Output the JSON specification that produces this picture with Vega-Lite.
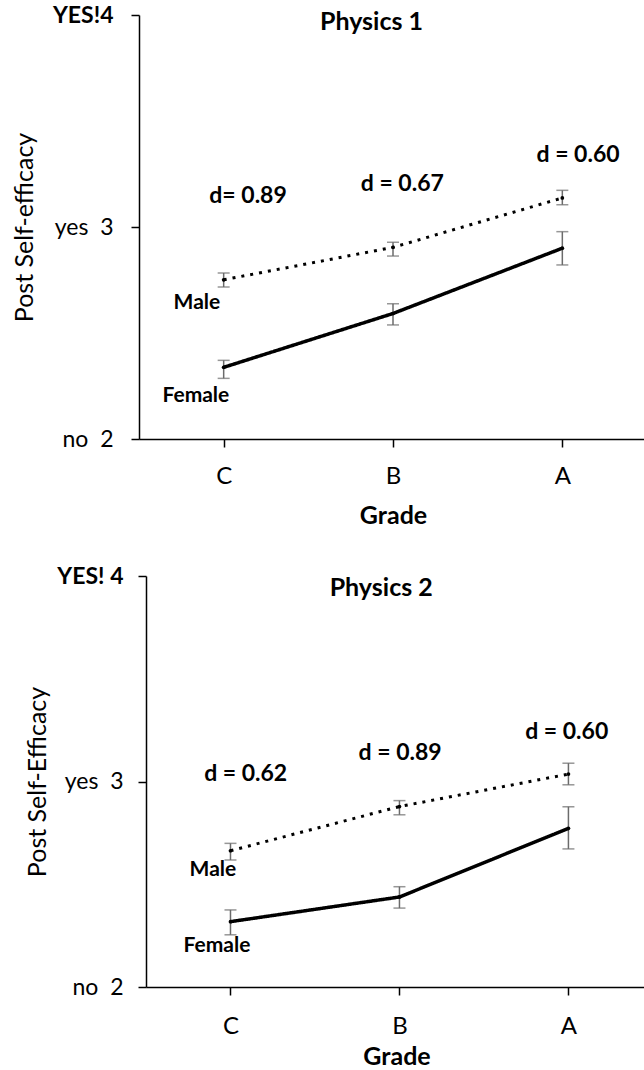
{
  "$schema": "https://vega.github.io/schema/vega-lite/v6.json",
  "padding": {"top": 4, "left": 12, "right": 0, "bottom": 0},
  "spacing": 37,
  "config": {
    "view": {"stroke": null},
    "font": "Lato",
    "axis": {"domainColor": "black", "domainWidth": 1.5, "tickColor": "black", "tickWidth": 1.5, "tickSize": 8, "grid": false, "labelColor": "black", "titleColor": "black", "labelFont": "Lato", "titleFont": "Lato"}
  },
  "datasets": {
    "pts": [
      {"panel": 1, "sex": "Male", "g": 1, "mean": 2.751, "lo": 2.717, "hi": 2.783},
      {"panel": 1, "sex": "Male", "g": 2, "mean": 2.904, "lo": 2.863, "hi": 2.928},
      {"panel": 1, "sex": "Male", "g": 3, "mean": 3.137, "lo": 3.105, "hi": 3.173},
      {"panel": 1, "sex": "Female", "g": 1, "mean": 2.338, "lo": 2.286, "hi": 2.371},
      {"panel": 1, "sex": "Female", "g": 2, "mean": 2.592, "lo": 2.538, "hi": 2.638},
      {"panel": 1, "sex": "Female", "g": 3, "mean": 2.9, "lo": 2.821, "hi": 2.978},
      {"panel": 2, "sex": "Male", "g": 1, "mean": 2.663, "lo": 2.618, "hi": 2.699},
      {"panel": 2, "sex": "Male", "g": 2, "mean": 2.878, "lo": 2.838, "hi": 2.907},
      {"panel": 2, "sex": "Male", "g": 3, "mean": 3.036, "lo": 2.984, "hi": 3.089},
      {"panel": 2, "sex": "Female", "g": 1, "mean": 2.318, "lo": 2.254, "hi": 2.375},
      {"panel": 2, "sex": "Female", "g": 2, "mean": 2.438, "lo": 2.384, "hi": 2.488},
      {"panel": 2, "sex": "Female", "g": 3, "mean": 2.772, "lo": 2.672, "hi": 2.877}
    ],
    "notes": [
      {"panel": 1, "kind": "title", "text": "Physics 1", "x": 1.873, "y": 3.965},
      {"panel": 1, "kind": "d", "text": "d= 0.89", "x": 1.144, "y": 3.148},
      {"panel": 1, "kind": "d", "text": "d = 0.67", "x": 2.055, "y": 3.203},
      {"panel": 1, "kind": "d", "text": "d = 0.60", "x": 3.093, "y": 3.34},
      {"panel": 1, "kind": "sex", "text": "Male", "x": 0.842, "y": 2.642},
      {"panel": 1, "kind": "sex", "text": "Female", "x": 0.836, "y": 2.204},
      {"panel": 2, "kind": "title", "text": "Physics 2", "x": 1.892, "y": 3.942},
      {"panel": 2, "kind": "d", "text": "d = 0.62", "x": 1.09, "y": 3.035},
      {"panel": 2, "kind": "d", "text": "d = 0.89", "x": 2.004, "y": 3.14},
      {"panel": 2, "kind": "d", "text": "d = 0.60", "x": 2.99, "y": 3.242},
      {"panel": 2, "kind": "sex", "text": "Male", "x": 0.896, "y": 2.569},
      {"panel": 2, "kind": "sex", "text": "Female", "x": 0.92, "y": 2.2}
    ]
  },
  "vconcat": [
    {
      "width": 508,
      "height": 424,
      "encoding": {
        "x": {"field": "g", "type": "quantitative", "scale": {"domain": [0.5, 3.5], "nice": false, "zero": false},
          "axis": {"title": "Grade", "values": [1, 2, 3, 3.5], "labelExpr": "datum.value == 1 ? 'C' : datum.value == 2 ? 'B' : datum.value == 3 ? 'A' : ''", "labelFontSize": 24, "labelPadding": 17, "titleFontSize": 25, "titleFontWeight": "bold", "titlePadding": 15, "labelFlush": false}}
      },
      "layer": [
        {
          "data": {"name": "pts"},
          "transform": [{"filter": "datum.panel == 1"}],
          "mark": {"type": "rule", "color": "#6b6b6b", "strokeWidth": 1.5},
          "encoding": {
            "y": {"field": "lo", "type": "quantitative", "scale": {"domain": [2, 4], "nice": false, "zero": false},
              "axis": {"title": "Post Self-efficacy", "values": [2, 3, 4], "labelExpr": "datum.value == 4 ? 'YES!4' : datum.value == 3 ? 'yes\u00a0\u00a03' : 'no\u00a0\u00a02'", "labelFontSize": 23, "labelFontWeight": {"condition": {"test": "datum.value == 4", "value": "bold"}, "value": "normal"}, "labelPadding": 18, "titleFontSize": 25, "titleFontWeight": "normal", "titlePadding": 15}},
            "y2": {"field": "hi"}
          }
        },
        {
          "data": {"name": "pts"},
          "transform": [{"filter": "datum.panel == 1"}],
          "mark": {"type": "tick", "orient": "horizontal", "color": "#6b6b6b", "size": 12, "thickness": 1.5},
          "encoding": {"y": {"field": "lo", "type": "quantitative"}}
        },
        {
          "data": {"name": "pts"},
          "transform": [{"filter": "datum.panel == 1"}],
          "mark": {"type": "tick", "orient": "horizontal", "color": "#6b6b6b", "size": 12, "thickness": 1.5},
          "encoding": {"y": {"field": "hi", "type": "quantitative"}}
        },
        {
          "data": {"name": "pts"},
          "transform": [{"filter": "datum.panel == 1"}],
          "mark": {"type": "line", "color": "black"},
          "encoding": {
            "y": {"field": "mean", "type": "quantitative"},
            "detail": {"field": "sex"},
            "strokeDash": {"field": "sex", "type": "nominal", "scale": {"domain": ["Male", "Female"], "range": [[3, 6], [1, 0]]}, "legend": null},
            "strokeWidth": {"field": "sex", "type": "nominal", "scale": {"domain": ["Male", "Female"], "range": [3, 3.5]}, "legend": null}
          }
        },
        {
          "data": {"name": "pts"},
          "transform": [{"filter": "datum.panel == 1"}],
          "mark": {"type": "point", "filled": true, "color": "black", "size": 14, "opacity": 1},
          "encoding": {"y": {"field": "mean", "type": "quantitative"}}
        },
        {
          "data": {"name": "notes"},
          "transform": [{"filter": "datum.panel == 1"}],
          "mark": {"type": "text", "color": "black", "fontWeight": "bold", "baseline": "middle", "align": "center"},
          "encoding": {
            "y": {"field": "y", "type": "quantitative"},
            "x": {"field": "x", "type": "quantitative"},
            "text": {"field": "text"},
            "size": {"field": "kind", "type": "nominal", "scale": {"domain": ["title", "d", "sex"], "range": [25, 21, 23]}, "legend": null}
          }
        }
      ]
    },
    {
      "width": 508,
      "height": 411,
      "encoding": {
        "x": {"field": "g", "type": "quantitative", "scale": {"domain": [0.5, 3.465], "range": [7, 508], "nice": false, "zero": false},
          "axis": {"title": "Grade", "values": [1, 2, 3], "labelExpr": "datum.value == 1 ? 'C' : datum.value == 2 ? 'B' : datum.value == 3 ? 'A' : ''", "labelFontSize": 24, "labelPadding": 19, "titleFontSize": 25, "titleFontWeight": "bold", "titlePadding": 6, "labelFlush": false}}
      },
      "layer": [
        {
          "data": {"name": "pts"},
          "transform": [{"filter": "datum.panel == 2"}],
          "mark": {"type": "rule", "color": "#6b6b6b", "strokeWidth": 1.5},
          "encoding": {
            "y": {"field": "lo", "type": "quantitative", "scale": {"domain": [2, 4], "nice": false, "zero": false},
              "axis": {"title": "Post Self-Efficacy", "offset": -7, "values": [2, 3, 4], "labelExpr": "datum.value == 4 ? 'YES! 4' : datum.value == 3 ? 'yes\u00a0\u00a03' : 'no\u00a0\u00a02'", "labelFontSize": 23, "labelFontWeight": {"condition": {"test": "datum.value == 4", "value": "bold"}, "value": "normal"}, "labelPadding": 15, "titleFontSize": 25, "titleFontWeight": "normal", "titlePadding": 6}},
            "y2": {"field": "hi"}
          }
        },
        {
          "data": {"name": "pts"},
          "transform": [{"filter": "datum.panel == 2"}],
          "mark": {"type": "tick", "orient": "horizontal", "color": "#6b6b6b", "size": 12, "thickness": 1.5},
          "encoding": {"y": {"field": "lo", "type": "quantitative"}}
        },
        {
          "data": {"name": "pts"},
          "transform": [{"filter": "datum.panel == 2"}],
          "mark": {"type": "tick", "orient": "horizontal", "color": "#6b6b6b", "size": 12, "thickness": 1.5},
          "encoding": {"y": {"field": "hi", "type": "quantitative"}}
        },
        {
          "data": {"name": "pts"},
          "transform": [{"filter": "datum.panel == 2"}],
          "mark": {"type": "line", "color": "black"},
          "encoding": {
            "y": {"field": "mean", "type": "quantitative"},
            "detail": {"field": "sex"},
            "strokeDash": {"field": "sex", "type": "nominal", "scale": {"domain": ["Male", "Female"], "range": [[3, 6], [1, 0]]}, "legend": null},
            "strokeWidth": {"field": "sex", "type": "nominal", "scale": {"domain": ["Male", "Female"], "range": [3, 3.5]}, "legend": null}
          }
        },
        {
          "data": {"name": "pts"},
          "transform": [{"filter": "datum.panel == 2"}],
          "mark": {"type": "point", "filled": true, "color": "black", "size": 14, "opacity": 1},
          "encoding": {"y": {"field": "mean", "type": "quantitative"}}
        },
        {
          "data": {"name": "notes"},
          "transform": [{"filter": "datum.panel == 2"}],
          "mark": {"type": "text", "color": "black", "fontWeight": "bold", "baseline": "middle", "align": "center"},
          "encoding": {
            "y": {"field": "y", "type": "quantitative"},
            "x": {"field": "x", "type": "quantitative"},
            "text": {"field": "text"},
            "size": {"field": "kind", "type": "nominal", "scale": {"domain": ["title", "d", "sex"], "range": [25, 21, 23]}, "legend": null}
          }
        }
      ]
    }
  ]
}
